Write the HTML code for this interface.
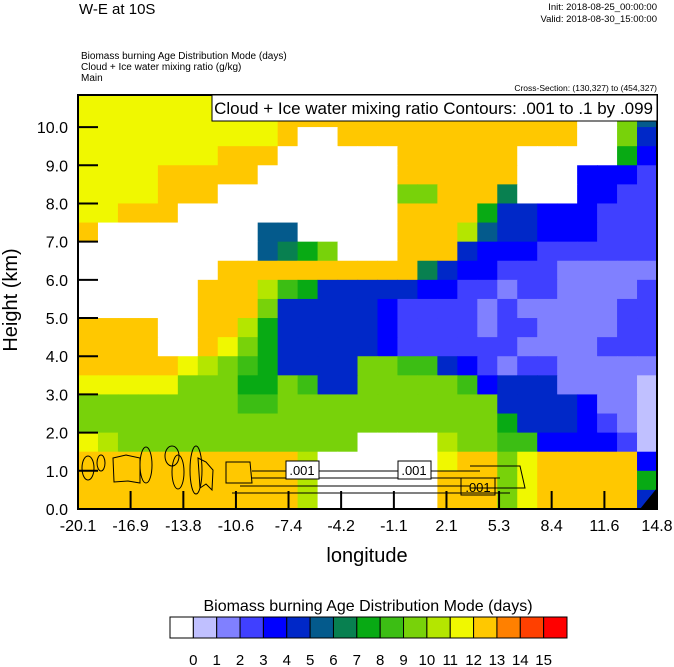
<!DOCTYPE html>
<html><head><meta charset="utf-8"><style>
html,body{margin:0;padding:0;background:#fff;width:674px;height:667px;overflow:hidden}
svg{display:block;font-family:"Liberation Sans",sans-serif}
</style></head><body>
<svg id="chart" width="674" height="667" viewBox="0 0 674 667" xmlns="http://www.w3.org/2000/svg">
<defs><clipPath id="plotclip"><rect x="78" y="95" width="579" height="414"/></clipPath></defs>
<text x="79" y="14" font-size="15">W-E at 10S</text>
<text x="657" y="10" font-size="9.5" text-anchor="end">Init: 2018-08-25_00:00:00</text>
<text x="657" y="22" font-size="9.5" text-anchor="end">Valid: 2018-08-30_15:00:00</text>
<text x="81" y="59" font-size="10">Biomass burning Age Distribution Mode    (days)</text>
<text x="81" y="70" font-size="10">Cloud + Ice water mixing ratio    (g/kg)</text>
<text x="81" y="81" font-size="10">Main</text>
<text x="657" y="91" font-size="8.5" text-anchor="end">Cross-Section: (130,327) to (454,327)</text>
<g id="cells" clip-path="url(#plotclip)"></g>
<g id="contours" fill="none" stroke="#000" stroke-width="1" clip-path="url(#plotclip)">
<ellipse cx="88" cy="468" rx="6" ry="12"/><ellipse cx="101" cy="463" rx="4" ry="8"/>
<path d="M113 458 L126 455 L140 458 L140 483 L128 481 L114 482 Z"/>
<ellipse cx="146" cy="465" rx="6" ry="18"/><ellipse cx="172" cy="456" rx="7" ry="10"/>
<ellipse cx="178" cy="472" rx="6" ry="17"/><ellipse cx="196" cy="470" rx="6" ry="24"/>
<path d="M198 458 L206 462 L213 470 L212 490 L206 484 L200 488 Z"/>
<path d="M226 462 L250 462 L252 483 L226 483 Z"/>
<path d="M252 471 L480 471 M252 478 L500 478 M240 486 L470 486 M232 493 L510 493"/>
<path d="M470 466 L520 466 L525 488 L470 488" />
</g>
<g font-size="13">
<rect x="286" y="461" width="33" height="18" fill="#fff" stroke="#000"/><text x="302" y="475" text-anchor="middle">.001</text>
<rect x="398" y="461" width="33" height="18" fill="#fff" stroke="#000"/><text x="414" y="475" text-anchor="middle">.001</text>
<rect x="461" y="478" width="34" height="17" fill="none" stroke="#000"/><text x="478" y="492" text-anchor="middle">.001</text>
</g>
<polygon points="640,509 657,488 657,509" fill="#000"/>
<rect x="78" y="95" width="579" height="414" fill="none" stroke="#000" stroke-width="2"/>
<g>
<rect x="212" y="95" width="445" height="26" fill="#fff" stroke="#000" stroke-width="1"/>
<text x="653" y="114" font-size="17" text-anchor="end">Cloud + Ice water mixing ratio Contours: .001 to .1 by .099</text>
</g>
<g id="axes"></g>
<text transform="translate(17,300) rotate(-90)" font-size="20" text-anchor="middle">Height (km)</text>
<text x="367" y="562" font-size="20" text-anchor="middle">longitude</text>
<text x="368" y="611" font-size="16" text-anchor="middle">Biomass burning Age Distribution Mode  (days)</text>
<g id="colorbar"></g>
</svg>
<script>
var palette = ["#ffffff","#c0c0ff","#8080ff","#4040ff","#0000ff","#0028c8","#045a8c","#088050","#08aa14","#3cbe14","#78d20a","#b4e600","#f0f800","#ffc800","#ff8000","#ff4000","#ff0000"];
var colorbarLabels = ["0","1","2","3","4","5","6","7","8","9","10","11","12","13","14","15"];
var yTickLabels = ["0.0","1.0","2.0","3.0","4.0","5.0","6.0","7.0","8.0","9.0","10.0"];
var yTickValues = [0,1,2,3,4,5,6,7,8,9,10];
var xTickLabels = ["-20.1","-16.9","-13.8","-10.6","-7.4","-4.2","-1.1","2.1","5.3","8.4","11.6","14.8"];
var xTickValues = [-20.1,-16.93,-13.75,-10.58,-7.41,-4.24,-1.06,2.11,5.28,8.45,11.63,14.8];
var lonMin = -20.1, lonMax = 14.8, kmMax = 10.84;
var nCols = 29, rowStep = 0.5;
// rows from top (10.5-11 km) down to (0-0.5 km); each char is a palette index (hex)
var ageRows = [
"ccccc ccccc ddddd ddddd ddddd 00a6",
"ccccc ccccc ddddd ddddd ddddd 00a6",
"ccccc ccccc d00dd ddddd ddddd 00a5",
"ccccc ccddd 00000 0dddd dd000 0084",
"ccccd dddd0 00000 0dddd dd000 4443",
"ccccd dd000 00000 0aadd d7000 4433",
"ccddd 00000 00000 0dddd 85544 4333",
"d0000 00006 60000 0dddb 65544 4333",
"00000 00006 78a00 0ddd5 44433 3333",
"00000 00ddd ddddd dd754 43332 2222",
"00000 0dddb 98555 55443 32332 2223",
"00000 0ddda 55555 43333 23222 2233",
"dddd0 0ddb8 55555 43333 23322 2233",
"dddd0 0dca8 55555 43333 33222 2333",
"ddddd cba98 5555a a9954 32332 2222",
"ccccc aaa88 a955a aaaa9 45552 2221",
"aaaaa aaa99 aaaaa aaaaa a5555 4221",
"aaaaa aaaaa aaaaa aaaaa a8555 4321",
"cbaaa aaaaa aaaa0 000ba a9944 4431",
"ddddd ddddd db000 000cd dacdd ddd4",
"ddddd ddddd db000 000dd dacdd ddd8",
"ddddd ddddd db000 000dd dacdd ddd5"
];
function xScale(lon){ return 78 + (lon - lonMin) / (lonMax - lonMin) * 579; }
function yScale(km){ return 509 - km / kmMax * 414; }
var NS = "http://www.w3.org/2000/svg";
var cells = document.getElementById("cells");
var dLon = (lonMax - lonMin) / nCols;
var nRows = ageRows.length;
for (var r = 0; r < nRows; r++) {
  var kmTop = (nRows - r) * rowStep, kmBot = kmTop - rowStep;
  var row = ageRows[r].replace(/ /g, "");
  for (var c = 0; c < nCols; c++) {
    var v = parseInt(row.charAt(c) || "d", 16);
    var x0 = xScale(lonMin + c * dLon), x1 = xScale(lonMin + (c + 1) * dLon);
    var rect = document.createElementNS(NS, "rect");
    rect.setAttribute("x", x0.toFixed(2));
    rect.setAttribute("y", yScale(kmTop).toFixed(2));
    rect.setAttribute("width", (x1 - x0 + 0.6).toFixed(2));
    rect.setAttribute("height", (yScale(kmBot) - yScale(kmTop) + 0.6).toFixed(2));
    rect.setAttribute("fill", palette[v]);
    
    
    cells.appendChild(rect);
  }
}
var axes = document.getElementById("axes");
for (var i = 0; i < yTickValues.length; i++) {
  var y = yScale(yTickValues[i]);
  var t = document.createElementNS(NS, "line");
  t.setAttribute("x1", 78); t.setAttribute("x2", 98); t.setAttribute("y1", y); t.setAttribute("y2", y);
  t.setAttribute("stroke", "#000"); t.setAttribute("stroke-width", "2");
  
  
  axes.appendChild(t);
  var lb = document.createElementNS(NS, "text");
  lb.setAttribute("x", 68); lb.setAttribute("y", y + 6); lb.setAttribute("font-size", "16"); lb.setAttribute("text-anchor", "end");
  lb.textContent = yTickLabels[i];
  
  
  axes.appendChild(lb);
}
for (var j = 0; j < xTickValues.length; j++) {
  var x = xScale(xTickValues[j]);
  var tk = document.createElementNS(NS, "line");
  tk.setAttribute("x1", x); tk.setAttribute("x2", x); tk.setAttribute("y1", 509); tk.setAttribute("y2", 491);
  tk.setAttribute("stroke", "#000"); tk.setAttribute("stroke-width", "2");
  
  
  axes.appendChild(tk);
  var xl = document.createElementNS(NS, "text");
  xl.setAttribute("x", x); xl.setAttribute("y", 531); xl.setAttribute("font-size", "16"); xl.setAttribute("text-anchor", "middle");
  xl.textContent = xTickLabels[j];
  
  
  axes.appendChild(xl);
}
var cb = document.getElementById("colorbar");
var cbX = 170, cbW = 397 / palette.length;
for (var k = 0; k < palette.length; k++) {
  var b = document.createElementNS(NS, "rect");
  b.setAttribute("x", cbX + k * cbW); b.setAttribute("y", 617); b.setAttribute("width", cbW); b.setAttribute("height", 21);
  b.setAttribute("fill", palette[k]); b.setAttribute("stroke", "#000"); b.setAttribute("stroke-width", "1");
  
  
  cb.appendChild(b);
}
for (var m = 0; m < colorbarLabels.length; m++) {
  var cl = document.createElementNS(NS, "text");
  cl.setAttribute("x", cbX + (m + 1) * cbW); cl.setAttribute("y", 665); cl.setAttribute("font-size", "15"); cl.setAttribute("text-anchor", "middle");
  cl.textContent = colorbarLabels[m];
  
  
  cb.appendChild(cl);
}
</script>
</body></html>
